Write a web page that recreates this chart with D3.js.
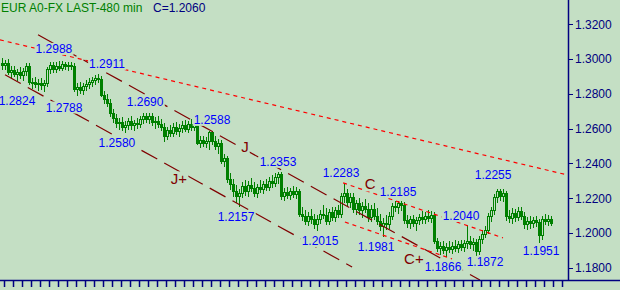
<!DOCTYPE html>
<html><head><meta charset="utf-8">
<script src="https://cdn.jsdelivr.net/npm/d3@7"></script>
<style>
html,body{margin:0;padding:0;background:#C4DFC4;}
svg{display:block;}
text{font-family:"Liberation Sans",Arial,sans-serif;}
</style></head>
<body>
<svg id="chart" width="620" height="290"></svg>
<script>
// ---- data ----
const title = "EUR A0-FX LAST-480 min";
const lastLabel = "C=1.2060";
// [open, high, low, close] per 480-min bar
const ohlc = [
[1.2975,1.3005,1.2945,1.2965],[1.2965,1.2995,1.2940,1.2978],[1.2978,1.2998,1.2915,1.2925],
[1.2925,1.2958,1.2895,1.2935],[1.2935,1.2960,1.2900,1.2915],[1.2915,1.2942,1.2880,1.2925],
[1.2925,1.2952,1.2890,1.2910],[1.2910,1.2948,1.2878,1.2930],[1.2930,1.2975,1.2910,1.2960],
[1.2960,1.2978,1.2855,1.2865],[1.2865,1.2892,1.2835,1.2870],[1.2870,1.2898,1.2838,1.2855],
[1.2855,1.2885,1.2822,1.2862],[1.2862,1.2890,1.2828,1.2848],[1.2848,1.2880,1.2818,1.2860],
[1.2860,1.2955,1.2845,1.2940],[1.2940,1.2985,1.2922,1.2965],[1.2965,1.2985,1.2925,1.2945],
[1.2945,1.2982,1.2925,1.2962],[1.2962,1.2988,1.2935,1.2950],[1.2950,1.2988,1.2938,1.2970],
[1.2970,1.2985,1.2940,1.2958],[1.2958,1.2985,1.2935,1.2968],[1.2968,1.2985,1.2945,1.2962],
[1.2962,1.2975,1.2815,1.2825],[1.2825,1.2862,1.2795,1.2840],[1.2840,1.2868,1.2805,1.2822],
[1.2822,1.2862,1.2800,1.2845],[1.2845,1.2878,1.2820,1.2858],[1.2858,1.2892,1.2835,1.2870],
[1.2870,1.2898,1.2845,1.2878],[1.2878,1.2908,1.2855,1.2892],[1.2892,1.2911,1.2868,1.2885],
[1.2885,1.2900,1.2785,1.2795],[1.2795,1.2815,1.2750,1.2770],[1.2770,1.2798,1.2730,1.2750],
[1.2750,1.2768,1.2672,1.2690],[1.2690,1.2712,1.2640,1.2660],[1.2660,1.2685,1.2610,1.2630],
[1.2630,1.2662,1.2595,1.2640],[1.2640,1.2668,1.2590,1.2610],[1.2610,1.2642,1.2580,1.2620],
[1.2620,1.2662,1.2595,1.2645],[1.2645,1.2670,1.2600,1.2618],[1.2618,1.2652,1.2590,1.2632],
[1.2632,1.2662,1.2605,1.2625],[1.2625,1.2672,1.2610,1.2655],[1.2655,1.2688,1.2635,1.2670],
[1.2670,1.2690,1.2640,1.2658],[1.2658,1.2690,1.2635,1.2675],[1.2675,1.2688,1.2620,1.2638],
[1.2638,1.2668,1.2605,1.2645],[1.2645,1.2672,1.2610,1.2628],[1.2628,1.2658,1.2590,1.2612],
[1.2612,1.2635,1.2530,1.2560],[1.2560,1.2612,1.2540,1.2590],[1.2590,1.2622,1.2555,1.2575],
[1.2575,1.2632,1.2555,1.2610],[1.2610,1.2638,1.2570,1.2588],[1.2588,1.2628,1.2560,1.2605],
[1.2605,1.2645,1.2580,1.2620],[1.2620,1.2652,1.2585,1.2600],[1.2600,1.2642,1.2580,1.2625],
[1.2625,1.2658,1.2590,1.2610],[1.2610,1.2652,1.2590,1.2630],[1.2630,1.2645,1.2510,1.2520],
[1.2520,1.2558,1.2495,1.2535],[1.2535,1.2560,1.2500,1.2515],[1.2515,1.2552,1.2495,1.2530],
[1.2530,1.2588,1.2485,1.2580],[1.2580,1.2588,1.2510,1.2528],[1.2528,1.2558,1.2480,1.2500],
[1.2500,1.2542,1.2460,1.2520],[1.2520,1.2532,1.2400,1.2415],[1.2415,1.2452,1.2385,1.2430],
[1.2430,1.2442,1.2295,1.2310],[1.2310,1.2342,1.2250,1.2280],[1.2280,1.2312,1.2215,1.2240],
[1.2240,1.2278,1.2180,1.2215],[1.2215,1.2252,1.2157,1.2230],[1.2230,1.2292,1.2205,1.2270],
[1.2270,1.2302,1.2220,1.2240],[1.2240,1.2298,1.2215,1.2275],[1.2275,1.2318,1.2240,1.2260],
[1.2260,1.2292,1.2210,1.2230],[1.2230,1.2282,1.2205,1.2262],[1.2262,1.2302,1.2235,1.2250],
[1.2250,1.2298,1.2230,1.2280],[1.2280,1.2312,1.2245,1.2265],[1.2265,1.2322,1.2245,1.2300],
[1.2300,1.2332,1.2265,1.2285],[1.2285,1.2342,1.2270,1.2320],[1.2320,1.2353,1.2290,1.2340],
[1.2340,1.2348,1.2195,1.2210],[1.2210,1.2258,1.2190,1.2235],[1.2235,1.2262,1.2200,1.2220],
[1.2220,1.2260,1.2195,1.2240],[1.2240,1.2268,1.2205,1.2225],[1.2225,1.2262,1.2200,1.2240],
[1.2240,1.2252,1.2095,1.2110],[1.2110,1.2152,1.2075,1.2095],[1.2095,1.2132,1.2050,1.2070],
[1.2070,1.2122,1.2045,1.2100],[1.2100,1.2138,1.2060,1.2080],[1.2080,1.2112,1.2030,1.2050],
[1.2050,1.2102,1.2015,1.2082],[1.2082,1.2132,1.2060,1.2110],[1.2110,1.2162,1.2085,1.2105],
[1.2105,1.2142,1.2050,1.2070],[1.2070,1.2138,1.2050,1.2118],[1.2118,1.2152,1.2075,1.2092],
[1.2092,1.2148,1.2070,1.2130],[1.2130,1.2162,1.2090,1.2110],[1.2110,1.2232,1.2090,1.2210],
[1.2210,1.2283,1.2180,1.2230],[1.2230,1.2252,1.2160,1.2180],[1.2180,1.2228,1.2150,1.2205],
[1.2205,1.2232,1.2120,1.2140],[1.2140,1.2192,1.2110,1.2170],[1.2170,1.2202,1.2110,1.2130],
[1.2130,1.2178,1.2090,1.2155],[1.2155,1.2198,1.2120,1.2140],[1.2140,1.2172,1.2070,1.2090],
[1.2090,1.2162,1.2070,1.2140],[1.2140,1.2172,1.2080,1.2100],[1.2100,1.2142,1.2050,1.2070],
[1.2070,1.2112,1.2020,1.2040],[1.2040,1.2088,1.1981,1.2060],[1.2060,1.2102,1.2025,1.2050],
[1.2050,1.2122,1.2030,1.2100],[1.2100,1.2175,1.2080,1.2155],[1.2155,1.2185,1.2125,1.2150],
[1.2150,1.2185,1.2115,1.2170],[1.2170,1.2185,1.2130,1.2160],[1.2160,1.2178,1.2055,1.2075],
[1.2075,1.2102,1.2035,1.2055],[1.2055,1.2098,1.2030,1.2078],[1.2078,1.2105,1.2040,1.2060],
[1.2060,1.2092,1.2020,1.2072],[1.2072,1.2112,1.2050,1.2090],[1.2090,1.2125,1.2060,1.2082],
[1.2082,1.2122,1.2055,1.2100],[1.2100,1.2132,1.2070,1.2088],[1.2088,1.2128,1.2065,1.2105],
[1.2105,1.2118,1.1940,1.1955],[1.1955,1.1972,1.1895,1.1915],[1.1915,1.1948,1.1880,1.1925],
[1.1925,1.1952,1.1885,1.1905],[1.1905,1.1942,1.1866,1.1920],[1.1920,1.1952,1.1890,1.1910],
[1.1910,1.1948,1.1885,1.1928],[1.1928,1.1958,1.1895,1.1915],[1.1915,1.1952,1.1890,1.1935],
[1.1935,1.1962,1.1900,1.1920],[1.1920,1.1958,1.1895,1.1940],[1.1940,1.2046,1.1915,1.1955],
[1.1955,1.1982,1.1915,1.1935],[1.1935,1.1972,1.1905,1.1950],[1.1950,1.1965,1.1872,1.1895],
[1.1895,1.1985,1.1880,1.1965],[1.1965,1.2018,1.1945,1.1995],[1.1995,1.2042,1.1975,1.2020],
[1.2020,1.2115,1.2000,1.2095],[1.2095,1.2152,1.2070,1.2130],[1.2130,1.2225,1.2110,1.2205],
[1.2205,1.2255,1.2180,1.2240],[1.2240,1.2255,1.2190,1.2215],[1.2215,1.2252,1.2185,1.2230],
[1.2230,1.2242,1.2075,1.2095],[1.2095,1.2132,1.2065,1.2085],[1.2085,1.2142,1.2060,1.2115],
[1.2115,1.2138,1.2070,1.2092],[1.2092,1.2152,1.2075,1.2125],[1.2125,1.2148,1.2080,1.2100],
[1.2100,1.2118,1.2030,1.2050],[1.2050,1.2092,1.2025,1.2070],[1.2070,1.2098,1.2030,1.2055],
[1.2055,1.2092,1.2035,1.2072],[1.2072,1.2098,1.2040,1.2062],[1.2062,1.2078,1.1951,1.1990],
[1.1990,1.2100,1.1965,1.2080],[1.2080,1.2112,1.2050,1.2070],[1.2070,1.2102,1.2045,1.2080],
[1.2080,1.2095,1.2048,1.2060]
];
const yTicks = [1.18, 1.20, 1.22, 1.24, 1.26, 1.28, 1.30, 1.32];
// price annotations: text, bar index, price where the label sits
const priceLabels = [
  {t:"1.2988", i:17.3, p:1.3058}, {t:"1.2911", i:35.0, p:1.2972},
  {t:"1.2824", i:5.0,  p:1.2759}, {t:"1.2788", i:20.7, p:1.2721},
  {t:"1.2690", i:47.7, p:1.2753}, {t:"1.2580", i:38.3, p:1.2518},
  {t:"1.2588", i:70.0, p:1.2650}, {t:"1.2353", i:92.0, p:1.2409},
  {t:"1.2157", i:78.0, p:1.2092}, {t:"1.2283", i:113.0, p:1.2345},
  {t:"1.2185", i:132.0, p:1.2236}, {t:"1.2015", i:106.0, p:1.1954},
  {t:"1.1981", i:124.7, p:1.1920}, {t:"1.2040", i:153.0, p:1.2098},
  {t:"1.1866", i:147.0, p:1.1805}, {t:"1.1872", i:161.0, p:1.1834},
  {t:"1.1951", i:179.7, p:1.1897}, {t:"1.2255", i:163.7, p:1.2334}
];
const channelLetters = [
  {t:"J", i:81.0, p:1.2500}, {t:"J+", i:59.0, p:1.2311},
  {t:"C", i:122.7, p:1.2282}, {t:"C+", i:137.3, p:1.1856}
];
// trend lines: id, start (bar index, price), end (bar index, price)
const trendLines = [
  {id:"R",  i0:-0.7,  p0:1.3110, i1:187.4, p1:1.2338},
  {id:"J",  i0:12.0,  p0:1.3139, i1:159.3, p1:1.1730},
  {id:"J+", i0:1.0,   p0:1.2909, i1:116.7, p1:1.1805},
  {id:"C",  i0:113.7, p0:1.2288, i1:167.0, p1:1.1972},
  {id:"C+", i0:114.3, p0:1.2063, i1:150.0, p1:1.1851}
];

// ---- drawing ----
const BG = "#C4DFC4", GREEN = "#008000", NAVY = "#000080";
const lineStyle = {
  "R":  {c:"#FF0000", d:"4,4"},
  "J":  {c:"#800000", d:"18,8"},
  "J+": {c:"#800000", d:"18,8"},
  "C":  {c:"#FF0000", d:"4,4"},
  "C+": {c:"#FF0000", d:"4,4"}
};
const svg = d3.select("#chart");
svg.append("rect").attr("width",620).attr("height",290).attr("fill",BG);

const n = ohlc.length;
const x = d3.scaleLinear().domain([0, n-1]).range([2, 2 + 3*(n-1)]);
const y = d3.scaleLinear().domain([1.18, 1.32]).range([267.8, 24.2]);

const plot = svg.append("g");
// candles
const cg = plot.append("g");
ohlc.forEach((d,i)=>{
  const [o,h,l,c] = d;
  const cx = Math.round(x(i));
  const yo = Math.round(y(o)), yc = Math.round(y(c)), yh = Math.round(y(h)), yl = Math.round(y(l));
  const top = Math.min(yo,yc), bot = Math.max(yo,yc);
  cg.append("line").attr("x1",cx+0.5).attr("x2",cx+0.5).attr("y1",yh).attr("y2",top)
    .attr("stroke",GREEN).attr("stroke-width",1);
  cg.append("line").attr("x1",cx+0.5).attr("x2",cx+0.5).attr("y1",bot+1).attr("y2",yl+1)
    .attr("stroke",GREEN).attr("stroke-width",1);
  if (c >= o) {
    cg.append("rect").attr("x",cx-0.5).attr("y",top+0.5).attr("width",2).attr("height",Math.max(1,bot-top))
      .attr("fill","none").attr("stroke",GREEN).attr("stroke-width",1);
  } else {
    cg.append("rect").attr("x",cx-1).attr("y",top).attr("width",3).attr("height",Math.max(1,bot-top+1))
      .attr("fill",GREEN);
  }
});

// trend lines
plot.append("g").selectAll("line").data(trendLines).join("line")
  .attr("x1",d=>x(d.i0)).attr("y1",d=>y(d.p0)).attr("x2",d=>x(d.i1)).attr("y2",d=>y(d.p1))
  .attr("stroke",d=>lineStyle[d.id].c).attr("stroke-width",1.2)
  .attr("stroke-dasharray",d=>lineStyle[d.id].d).attr("fill","none");

// labels with background masks
function addLabels(data, size, color) {
  const g = plot.append("g");
  data.forEach(d=>{
    const t = g.append("text").attr("x",x(d.i)).attr("y",y(d.p)).attr("text-anchor","middle")
      .attr("dominant-baseline","central").attr("font-size",size).attr("fill",color).text(d.t);
    const b = t.node().getBBox();
    g.insert("rect","text").attr("x",b.x-1).attr("y",b.y+1).attr("width",b.width+2).attr("height",b.height-2).attr("fill",BG);
  });
}
addLabels(priceLabels, 12, "#0000FF");
addLabels(channelLetters, 15, "#800000");

// right axis
const axR = svg.append("g").attr("transform","translate(568,0)")
  .call(d3.axisRight(y).tickValues(yTicks).tickFormat(d3.format(".4f")).tickSize(5).tickPadding(2));
axR.select(".domain").remove();
axR.selectAll(".tick line").attr("stroke",NAVY).attr("shape-rendering","crispEdges");
axR.selectAll(".tick text").attr("fill",NAVY).attr("font-size",12).attr("font-family","Liberation Sans, Arial, sans-serif");
svg.append("line").attr("x1",568.5).attr("x2",568.5).attr("y1",0).attr("y2",281).attr("stroke",NAVY).attr("stroke-width",1.5);

// bottom axis
const xTickVals = d3.range(0.67, 188, 3);
const axB = svg.append("g").attr("transform","translate(0,280)")
  .call(d3.axisBottom(x).tickValues(xTickVals).tickFormat("").tickSize(7).tickSizeOuter(0));
axB.select(".domain").remove();
axB.selectAll(".tick line").attr("stroke",NAVY).attr("stroke-width",1.5);
svg.append("line").attr("x1",0).attr("x2",620).attr("y1",280.5).attr("y2",280.5).attr("stroke",NAVY).attr("stroke-width",1.5);

// title
svg.append("text").attr("x",1).attr("y",12).attr("font-size",12).attr("fill",GREEN).text(title);
svg.append("text").attr("x",153).attr("y",12).attr("font-size",12).attr("fill",NAVY).text(lastLabel);
</script>
</body></html>
